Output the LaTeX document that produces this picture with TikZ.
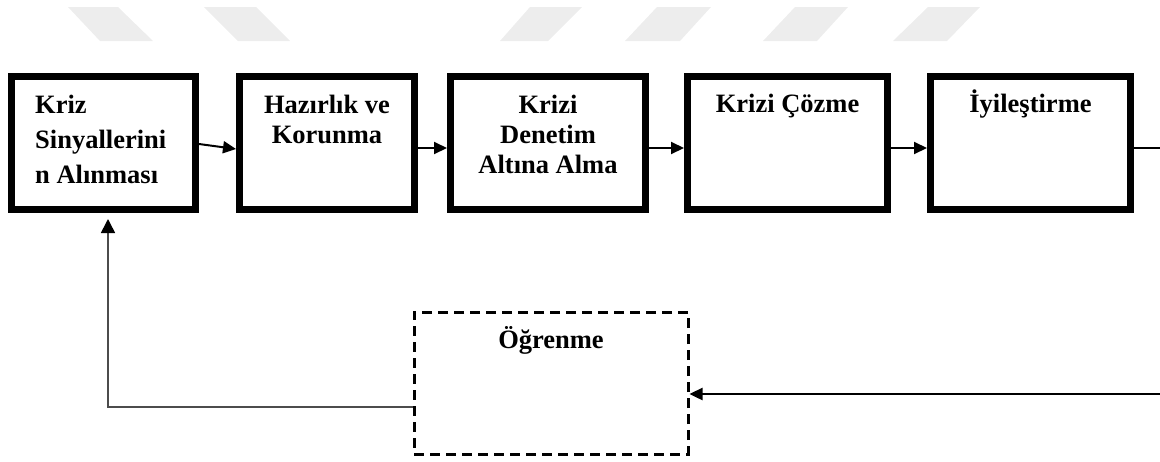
\documentclass[tikz,border=0pt]{standalone}
\usepackage{fontspec}
\setmainfont{Liberation Serif}
\usetikzlibrary{arrows.meta}
\definecolor{wm}{HTML}{EDEDED}
\tikzset{
  stage/.style={draw=black, line width=7pt, fill=white, inner sep=0pt},
  learnbox/.style={draw=black, line width=3pt, dash pattern=on 10pt off 6pt, fill=white, inner sep=0pt},
  lbl/.style={inner sep=0pt, font=\bfseries\fontsize{26.5}{30}\selectfont},
  flow/.style={line width=2pt, -{Triangle[length=13pt,width=12pt]}},
  feedback/.style={line width=1.6pt, draw=black!70, -{Triangle[length=14pt,width=14pt,fill=black,color=black]}},
  thinline/.style={line width=1.3pt},
}
\begin{document}
\begin{tikzpicture}[x=1pt, y=-1pt]
\useasboundingbox (0,0) rectangle (1160,461);

% faint header bands
\foreach \a/\b/\c/\d in {68/118/153/100, 204/256/290/238, 530/582/548/500,
                         657/711/680/625, 795/848/817/763, 928/980/947/893}
  \fill[wm] (\a,7) -- (\b,7) -- (\c,41) -- (\d,41) -- cycle;

% stages
\node[stage, minimum width=184pt, minimum height=133pt] (b1) at (103.5,143) {};
\node[stage, minimum width=175pt, minimum height=133pt] (b2) at (327,143) {};
\node[stage, minimum width=195pt, minimum height=133pt] (b3) at (548,143) {};
\node[stage, minimum width=200pt, minimum height=133pt] (b4) at (787.5,143) {};
\node[stage, minimum width=200pt, minimum height=133pt] (b5) at (1030.5,143) {};

% learning stage
\node[learnbox, minimum width=274pt, minimum height=142pt] (ogr) at (551,383) {};

% labels (multi-line labels are anchored on the baseline of their last line)
\node[lbl, align=left, anchor=base west, font=\bfseries\fontsize{26.5}{35}\selectfont]
  (t1) at (35,183) {Kriz\\Sinyallerini\\n Alınması};
\node[lbl, align=center, anchor=base] (t2) at (327,143) {Hazırlık ve\\Korunma};
\node[lbl, align=center, anchor=base] (t3) at (548,173) {Krizi\\Denetim\\Altına Alma};
\node[lbl, anchor=base] (t4) at (787.5,112) {Krizi Çözme};
\node[lbl, anchor=base] (t5) at (1030.5,112) {İyileştirme};
\node[lbl, anchor=base] (t6) at (551,348) {Öğrenme};

% flow between stages
\draw[flow] ([yshift=-1pt]b1.east) -- ([yshift=-6pt]b2.west);
\draw[flow] ([yshift=-5pt]b2.east) -- ([yshift=-5pt]b3.west);
\draw[flow] ([yshift=-5pt]b3.east) -- ([yshift=-5pt]b4.west);
\draw[flow] ([yshift=-5pt]b4.east) -- ([yshift=-5pt]b5.west);

% return path into learning
\coordinate (outTop) at (1160,148);
\coordinate (outBot) at (1160,394);
\draw[thinline] ([yshift=-5pt]b5.east) -- (outTop);
\draw[flow, line width=2.4pt] (outBot) -- ([yshift=-11pt]ogr.east);

% feedback to the first stage
\draw[feedback] ([yshift=-24pt]ogr.west) -| ([xshift=4.5pt,yshift=-6pt]b1.south);
\end{tikzpicture}
\end{document}
